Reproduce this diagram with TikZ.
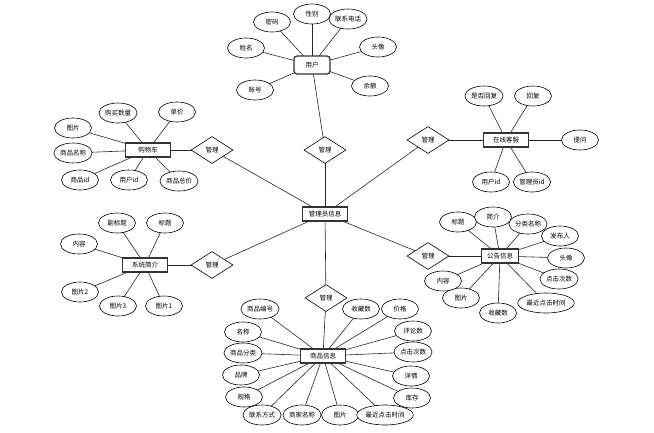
\documentclass[tikz,border=0pt]{standalone}
\usepackage{fontspec}
\usepackage{tikz}
\usetikzlibrary{shapes.geometric}
\newfontfamily\cjk{Noto Sans CJK SC}
\pgfdeclarelayer{edgelayer}
\pgfdeclarelayer{nodelayer}
\pgfsetlayers{edgelayer,nodelayer,main}
\tikzstyle{edge}=[draw=black!85, line width=0.6pt]
\tikzstyle{entity}=[rectangle, fill=white, draw=black!80, line width=1.3pt, minimum width=45, minimum height=14, inner sep=1pt, font=\cjk\fontsize{6.5}{7}\selectfont]
\tikzstyle{attr}=[ellipse, fill=white, draw=black, line width=0.6pt, minimum width=37, minimum height=20, inner sep=0.5pt, font=\cjk\fontsize{6.5}{7}\selectfont]
\tikzstyle{relation}=[diamond, fill=white, draw=black, line width=0.6pt, minimum width=42, minimum height=27, inner sep=0pt, font=\cjk\fontsize{6.5}{7}\selectfont]

\begin{document}
\begin{tikzpicture}[x=1pt, y=-1pt]
	\useasboundingbox (0, 0) rectangle (654, 432);
	\begin{pgfonlayer}{nodelayer}
		% entities
		\node [style=entity] (admin) at (325, 214) {管理员信息};
		\node [style=entity, rounded corners=3pt, minimum width=36, minimum height=18] (user) at (312, 65) {用户};
		\node [style=entity] (cart) at (148, 150) {购物车};
		\node [style=entity] (intro) at (145, 265) {系统简介};
		\node [style=entity] (chat) at (506, 140) {在线客服};
		\node [style=entity, minimum width=37] (notice) at (500, 256) {公告信息};
		\node [style=entity] (goods) at (323, 356) {商品信息};
		% relations
		\node [style=relation] (r1) at (325, 150) {管理};
		\node [style=relation] (r2) at (212, 150) {管理};
		\node [style=relation] (r3) at (212, 265) {管理};
		\node [style=relation] (r4) at (428, 140) {管理};
		\node [style=relation] (r5) at (428, 256) {管理};
		\node [style=relation] (r6) at (326, 298) {管理};
		% user
		\node [style=attr] (u1) at (272, 22) {密码};
		\node [style=attr] (u2) at (312, 14) {性别};
		\node [style=attr] (u3) at (348, 19) {联系电话};
		\node [style=attr] (u4) at (378, 47) {头像};
		\node [style=attr] (u5) at (370, 86) {余额};
		\node [style=attr] (u6) at (246, 48) {姓名};
		\node [style=attr] (u7) at (255, 90) {账号};
		% cart
		\node [style=attr] (c1) at (73, 128) {图片};
		\node [style=attr] (c2) at (118, 113) {购买数量};
		\node [style=attr] (c3) at (177, 112) {单价};
		\node [style=attr] (c4) at (73, 153) {商品名称};
		\node [style=attr] (c5) at (80, 180) {商品id};
		\node [style=attr] (c6) at (129, 180) {用户id};
		\node [style=attr] (c7) at (179, 181) {商品总价};
		% intro
		\node [style=attr] (s1) at (117, 223) {副标题};
		\node [style=attr] (s2) at (165, 223) {标题};
		\node [style=attr] (s3) at (79, 244) {内容};
		\node [style=attr] (s4) at (80, 292) {图片2};
		\node [style=attr] (s5) at (118, 306) {图片3};
		\node [style=attr] (s6) at (164, 306) {图片1};
		% chat
		\node [style=attr] (k1) at (484, 96) {是否回复};
		\node [style=attr] (k2) at (533, 96) {回复};
		\node [style=attr] (k3) at (580, 140) {提问};
		\node [style=attr] (k4) at (491, 182) {用户id};
		\node [style=attr] (k5) at (532, 182) {管理员id};
		% notice
		\node [style=attr] (n1) at (458, 222) {标题};
		\node [style=attr] (n2) at (493, 217) {简介};
		\node [style=attr] (n3) at (528, 224) {分类名称};
		\node [style=attr] (n4) at (560, 236) {发布人};
		\node [style=attr] (n5) at (566, 258) {头像};
		\node [style=attr] (n6) at (559, 279) {点击次数};
		\node [style=attr] (n7) at (546, 303) {最近点击时间};
		\node [style=attr] (n8) at (498, 313) {收藏数};
		\node [style=attr] (n9) at (461, 298) {图片};
		\node [style=attr] (n10) at (443, 281) {内容};
		% goods
		\node [style=attr] (g1) at (260, 309) {商品编号};
		\node [style=attr] (g2) at (243, 332) {名称};
		\node [style=attr] (g3) at (243, 353) {商品分类};
		\node [style=attr] (g4) at (241, 375) {品牌};
		\node [style=attr] (g5) at (244, 397) {规格};
		\node [style=attr] (g6) at (262, 415) {联系方式};
		\node [style=attr] (g7) at (302, 415) {商家名称};
		\node [style=attr] (g8) at (340, 415) {图片};
		\node [style=attr] (g9) at (385, 415) {最近点击时间};
		\node [style=attr] (g10) at (412, 398) {库存};
		\node [style=attr] (g11) at (411, 376) {详情};
		\node [style=attr] (g12) at (413, 352) {点击次数};
		\node [style=attr] (g13) at (413, 331) {评论数};
		\node [style=attr] (g14) at (400, 309) {价格};
		\node [style=attr] (g15) at (361, 309) {收藏数};
	\end{pgfonlayer}
	\begin{pgfonlayer}{edgelayer}
		\draw [style=edge] (admin.center) to (r1.center);
		\draw [style=edge] (r1.center) to (user.center);
		\draw [style=edge] (admin.center) to (r2.center);
		\draw [style=edge] (r2.center) to (cart.center);
		\draw [style=edge] (admin.center) to (r3.center);
		\draw [style=edge] (r3.center) to (intro.center);
		\draw [style=edge] (admin.center) to (r4.center);
		\draw [style=edge] (r4.center) to (chat.center);
		\draw [style=edge] (admin.center) to (r5.center);
		\draw [style=edge] (r5.center) to (notice.center);
		\draw [style=edge] (admin.center) to (r6.center);
		\draw [style=edge] (r6.center) to (goods.center);
		\foreach \a in {u1,u2,u3,u4,u5,u6,u7}
			\draw [style=edge] (user.center) to (\a.center);
		\foreach \a in {c1,c2,c3,c4,c5,c6,c7}
			\draw [style=edge] (cart.center) to (\a.center);
		\foreach \a in {s1,s2,s3,s4,s5,s6}
			\draw [style=edge] (intro.center) to (\a.center);
		\foreach \a in {k1,k2,k3,k4,k5}
			\draw [style=edge] (chat.center) to (\a.center);
		\foreach \a in {n1,n2,n3,n4,n5,n6,n7,n8,n9,n10}
			\draw [style=edge] (notice.center) to (\a.center);
		\foreach \a in {g1,g2,g3,g4,g5,g6,g7,g8,g9,g10,g11,g12,g13,g14,g15}
			\draw [style=edge] (goods.center) to (\a.center);
	\end{pgfonlayer}
\end{tikzpicture}
\end{document}
